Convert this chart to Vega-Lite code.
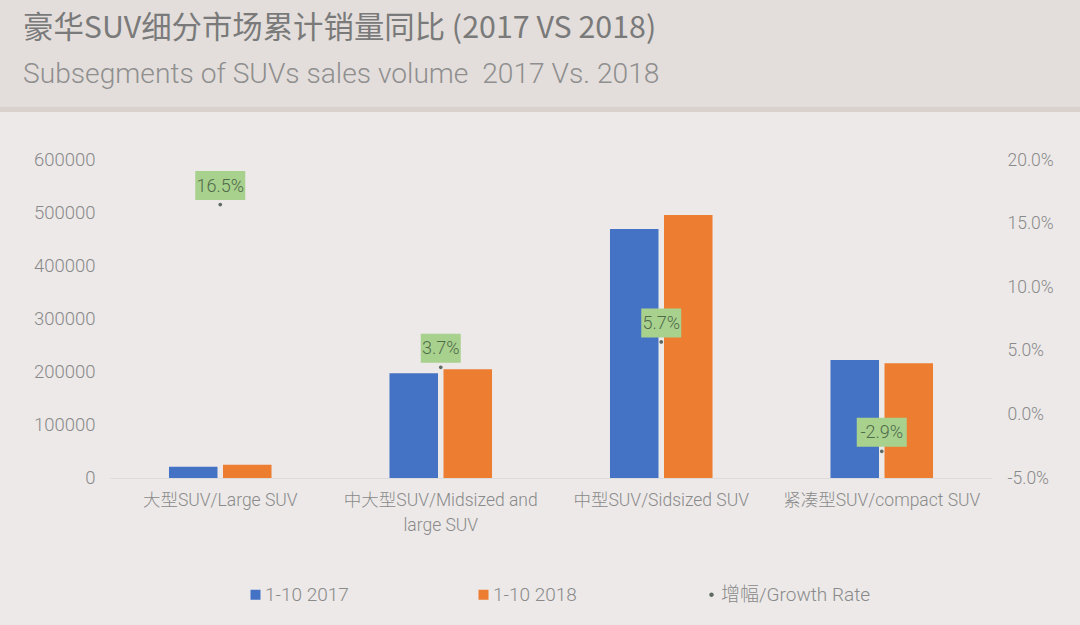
{
"$schema":"https://vega.github.io/schema/vega-lite/v6.json",
"width":1080,"height":625,"padding":0,"autosize":{"type":"none"},
"background":"#ece9e8",
"config":{"view":{"stroke":null},"font":"Noto Sans CJK SC","locale":{"number":{"decimal":".","thousands":",","grouping":[3],"currency":["$",""],"minus":"-"}}},
"title":{"text":"豪华SUV细分市场累计销量同比 (2017 VS 2018)","subtitle":"Subsegments of SUVs sales volume \u00a02017 Vs. 2018","anchor":"start","frame":"group","orient":"top","offset":-88,"dx":23,"fontSize":30.4,"font":"Noto Sans CJK SC","fontWeight":"normal","color":"#7a7a7a","subtitleFont":"Roboto, Noto Sans CJK SC","subtitleFontSize":28.2,"subtitleFontWeight":300,"subtitleColor":"#8f8f8f","subtitlePadding":16},
"datasets":{
"rows":[
{"segment":"大型SUV/Large SUV","series":"1-10 2017","value":21300},
{"segment":"大型SUV/Large SUV","series":"1-10 2018","value":25100},
{"segment":"中大型SUV/Midsized and large SUV","series":"1-10 2017","value":197500},
{"segment":"中大型SUV/Midsized and large SUV","series":"1-10 2018","value":205000},
{"segment":"中型SUV/Sidsized SUV","series":"1-10 2017","value":469900},
{"segment":"中型SUV/Sidsized SUV","series":"1-10 2018","value":496300},
{"segment":"紧凑型SUV/compact SUV","series":"1-10 2017","value":222700},
{"segment":"紧凑型SUV/compact SUV","series":"1-10 2018","value":216400}],
"growth":[
{"segment":"大型SUV/Large SUV","series":"增幅/Growth Rate","rate":0.165},
{"segment":"中大型SUV/Midsized and large SUV","series":"增幅/Growth Rate","rate":0.037},
{"segment":"中型SUV/Sidsized SUV","series":"增幅/Growth Rate","rate":0.057},
{"segment":"紧凑型SUV/compact SUV","series":"增幅/Growth Rate","rate":-0.029}],
"bands":[
{"region":"line","top":105,"bottom":112,"shade":"#d9d2cc"},
{"region":"header","top":0,"bottom":107,"shade":"#e3dedb"}]
},
"layer":[
{"data":{"name":"bands"},"mark":{"type":"rect","stroke":null},
"encoding":{
"y":{"field":"top","type":"quantitative","scale":{"domain":[0,625],"range":[0,625]},"axis":null},
"y2":{"field":"bottom"},
"fill":{"field":"shade","type":"nominal","scale":null,"legend":null}}},
{"data":{"name":"rows"},"mark":{"type":"bar"},
"encoding":{
"x":{"field":"segment","type":"nominal","sort":null,"title":null,
 "scale":{"range":[110,992],"paddingInner":0.535,"paddingOuter":0.2675},
 "axis":{"orient":"bottom","offset":-147,"labelAngle":0,"ticks":false,"domainColor":"#dcdcdc","domainWidth":1,"labelColor":"#8a8a8a","labelFontSize":17.5,"labelFontWeight":300,"labelPadding":13,"labelLimit":240,"labelLineHeight":25,"labelFont":"Roboto, Noto Sans CJK SC",
 "labelExpr":"datum.label=='中大型SUV/Midsized and large SUV'?['中大型SUV/Midsized and','large SUV']:datum.label"}},
"xOffset":{"field":"series","type":"nominal","scale":{"paddingInner":0.102,"paddingOuter":0}},
"y":{"field":"value","type":"quantitative","title":null,"scale":{"domain":[0,600000],"range":[478,160],"nice":false},
 "axis":{"orient":"left","offset":-110,"values":[0,100000,200000,300000,400000,500000,600000],"format":"d","grid":false,"domain":false,"ticks":false,"labelColor":"#8a8a8a","labelFont":"Roboto","labelFontWeight":300,"labelFontSize":18.5,"labelPadding":15,"labelOffset":-1}},
"color":{"field":"series","type":"nominal","title":null,
 "scale":{"domain":["1-10 2017","1-10 2018","增幅/Growth Rate"],"range":["#4472c4","#ed7d31","#5f6b60"]},
 "legend":{"orient":"none","legendX":246,"legendY":585,"direction":"horizontal","columns":3,"gridAlign":"all","columnPadding":59,"symbolSize":100,"symbolStrokeWidth":0,"labelFont":"Roboto, Noto Sans CJK SC","labelFontWeight":300,"labelFontSize":19,"labelColor":"#8a8a8a","labelOffset":0,"labelLimit":200,"title":null}}}},
{"data":{"name":"growth"},"mark":{"type":"point","filled":true,"size":70,"opacity":1},
"encoding":{
"x":{"field":"segment","type":"nominal","sort":null},
"y":{"field":"rate","type":"quantitative","title":null,"scale":{"domain":[-0.05,0.2],"range":[478,160],"nice":false},
 "axis":{"orient":"right","offset":-88,"values":[-0.05,0,0.05,0.1,0.15,0.2],"format":".1%","grid":false,"domain":false,"ticks":false,"labelColor":"#8a8a8a","labelFont":"Roboto","labelFontWeight":300,"labelFontSize":17.5,"labelPadding":15}},
"color":{"field":"series","type":"nominal","title":null,
 "scale":{"domain":["1-10 2017","1-10 2018","增幅/Growth Rate"],"range":["#4472c4","#ed7d31","#5f6b60"]},
 "legend":{"orient":"none","legendX":246,"legendY":585,"direction":"horizontal","columns":3,"gridAlign":"all","columnPadding":59,"symbolSize":100,"symbolStrokeWidth":0,"labelFont":"Roboto, Noto Sans CJK SC","labelFontWeight":300,"labelFontSize":19,"labelColor":"#8a8a8a","labelOffset":0,"labelLimit":200,"title":null}},
"shape":{"field":"series","type":"nominal","title":null,
 "scale":{"domain":["1-10 2017","1-10 2018","增幅/Growth Rate"],"range":["M-1,-1H1V1H-1Z","M-1,-1H1V1H-1Z","M-0.45,0a0.45,0.45 0 1,0 0.9,0a0.45,0.45 0 1,0 -0.9,0"]}}}},
{"data":{"name":"growth"},"mark":{"type":"rect","fill":"#a9d18e","height":29,"width":{"expr":"datum.rate>0.1||datum.rate<0?50:40"},"yOffset":-19},
"encoding":{
"x":{"field":"segment","type":"nominal","sort":null},
"y":{"field":"rate","type":"quantitative","scale":{"domain":[-0.05,0.2],"range":[478,160],"nice":false},"axis":null}}},
{"data":{"name":"growth"},"mark":{"type":"text","font":"Roboto","fontWeight":300,"fontSize":18,"color":"#4f6b4a","yOffset":-18,"baseline":"middle","align":"center"},
"encoding":{
"x":{"field":"segment","type":"nominal","sort":null},
"y":{"field":"rate","type":"quantitative","scale":{"domain":[-0.05,0.2],"range":[478,160],"nice":false},"axis":null},
"text":{"field":"rate","type":"quantitative","format":".1%"}}}
],
"resolve":{"scale":{"y":"independent"},"axis":{"y":"independent"}}
}
